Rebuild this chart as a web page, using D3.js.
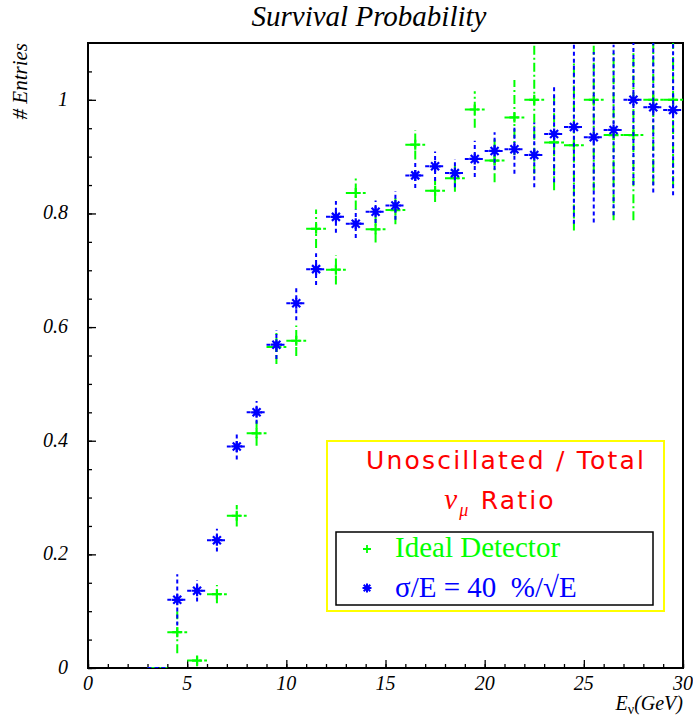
<!DOCTYPE html>
<html>
<head>
<meta charset="utf-8">
<script src="https://cdn.jsdelivr.net/npm/d3@7"></script>
<style>
  body { margin: 0; background: #fff; }
  text { white-space: pre; }
</style>
</head>
<body>
<div id="chart"></div>
<script>
var svgWidth = 693;
var svgHeight = 721;

var margin = { top: 43, right: 10, bottom: 53, left: 88 };
var chartWidth = 595;
var chartHeight = 625;

// bin centres (GeV) and the two ratio histograms
var binCenters = [3.5, 4.5, 5.5, 6.5, 7.5, 8.5, 9.5, 10.5, 11.5, 12.5, 13.5, 14.5, 15.5,
  16.5, 17.5, 18.5, 19.5, 20.5, 21.5, 22.5, 23.5, 24.5, 25.5, 26.5, 27.5, 28.5, 29.5];
var idealVals = [0, 0.063, 0.013, 0.130, 0.268, 0.413, 0.565, 0.576, 0.773, 0.701, 0.836, 0.772, 0.806,
  0.921, 0.840, 0.862, 0.983, 0.893, 0.969, 1.0, 0.925, 0.920, 1.0, 0.938, 0.938, 1.0, 1.0];
var idealErr = [0, 0.037, 0.01, 0.016, 0.019, 0.022, 0.03, 0.027, 0.034, 0.026, 0.029, 0.023, 0.025,
  0.026, 0.02, 0.024, 0.032, 0.038, 0.066, 0.13, 0.084, 0.15, 0.16, 0.15, 0.15, 0.15, 0.15];
var smearVals = [0, 0.120, 0.136, 0.225, 0.390, 0.450, 0.569, 0.642, 0.702, 0.794, 0.782, 0.803, 0.814,
  0.867, 0.883, 0.871, 0.896, 0.910, 0.913, 0.903, 0.940, 0.952, 0.934, 0.947, 1.0, 0.987, 0.982];
var smearErr = [0, 0.045, 0.019, 0.02, 0.023, 0.02, 0.025, 0.03, 0.028, 0.028, 0.025, 0.02, 0.025,
  0.022, 0.026, 0.025, 0.032, 0.033, 0.043, 0.057, 0.085, 0.17, 0.15, 0.15, 0.15, 0.15, 0.15];

var xTickLabels = [0, 5, 10, 15, 20, 25, 30];
var yTickLabels = [0, 0.2, 0.4, 0.6, 0.8, 1];
var binWidth = 1;

var green = "#00ff00";
var blue = "#0000ff";
var serif = "Liberation Serif, Times New Roman, serif";

var svg = d3.select("#chart")
  .append("svg")
  .attr("width", svgWidth)
  .attr("height", svgHeight);

var chartGroup = svg.append("g")
  .attr("transform", `translate(${margin.left}, ${margin.top})`);

var xScale = d3.scaleLinear().domain([0, 30]).range([0, chartWidth]);
var yScale = d3.scaleLinear().domain([0, 1.1]).range([chartHeight, 0]);

// clip so the big error bars stop at the frame
svg.append("defs").append("clipPath").attr("id", "frameClip")
  .append("rect").attr("width", chartWidth).attr("height", chartHeight);

// axes: ticks drawn inward, ROOT style
var xAxisMinor = d3.axisTop(xScale).tickValues(d3.range(0, 31, 1)).tickSize(4).tickFormat("");
var xAxisMajor = d3.axisTop(xScale).tickValues(xTickLabels).tickSize(8).tickFormat("");
var yAxisMinor = d3.axisRight(yScale).tickValues(d3.range(0, 1.1, 0.05)).tickSize(4).tickFormat("");
var yAxisMajor = d3.axisRight(yScale).tickValues(yTickLabels).tickSize(8).tickFormat("");

[xAxisMinor, xAxisMajor].forEach(function(ax) {
  chartGroup.append("g").attr("class", "axis")
    .attr("transform", `translate(0, ${chartHeight})`)
    .call(ax);
});
[yAxisMinor, yAxisMajor].forEach(function(ax) {
  chartGroup.append("g").attr("class", "axis").call(ax);
});
chartGroup.selectAll(".axis .domain").remove();
chartGroup.selectAll(".axis line").attr("stroke", "#000").attr("stroke-width", 1.3);

// tick labels
chartGroup.append("g").selectAll("text")
  .data(xTickLabels)
  .enter()
  .append("text")
  .attr("x", d => xScale(d))
  .attr("y", chartHeight + 22)
  .attr("text-anchor", "middle")
  .style("font-family", serif)
  .style("font-style", "italic")
  .style("font-size", "20px")
  .text(d => d);

chartGroup.append("g").selectAll("text")
  .data(yTickLabels)
  .enter()
  .append("text")
  .attr("x", -20)
  .attr("y", d => yScale(d) + 6)
  .attr("text-anchor", "end")
  .style("font-family", serif)
  .style("font-style", "italic")
  .style("font-size", "20px")
  .text(d => d);

// frame
chartGroup.append("rect")
  .attr("width", chartWidth)
  .attr("height", chartHeight)
  .attr("fill", "none")
  .attr("stroke", "#000")
  .attr("stroke-width", 2);

// data
function drawHist(vals, errs, color, dash, marker) {
  var data = binCenters.map(function(c, i) { return { x: c, y: vals[i], e: errs[i] }; });
  var g = chartGroup.append("g").attr("clip-path", "url(#frameClip)");

  g.selectAll(".hbar")
    .data(data)
    .enter()
    .append("line")
    .attr("x1", d => xScale(d.x - binWidth / 2))
    .attr("x2", d => xScale(d.x + binWidth / 2))
    .attr("y1", d => yScale(d.y))
    .attr("y2", d => yScale(d.y))
    .attr("stroke", color)
    .attr("stroke-width", 2)
    .attr("stroke-dasharray", dash);

  g.selectAll(".vbar")
    .data(data.filter(d => d.e > 0))
    .enter()
    .append("line")
    .attr("x1", d => xScale(d.x))
    .attr("x2", d => xScale(d.x))
    .attr("y1", d => yScale(d.y - d.e))
    .attr("y2", d => yScale(d.y + d.e))
    .attr("stroke", color)
    .attr("stroke-width", 2)
    .attr("stroke-dasharray", dash);

  g.selectAll(".mark")
    .data(data.filter(d => d.y > 0))
    .enter()
    .append("path")
    .attr("transform", d => `translate(${xScale(d.x)}, ${yScale(d.y)})`)
    .attr("d", marker)
    .attr("fill", "none")
    .attr("stroke", color)
    .attr("stroke-width", 2.2);
}

var plusPath = "M-5,0H5M0,-5V5";
var starPath = "M-5.5,0H5.5M0,-5.5V5.5M-4,-4L4,4M-4,4L4,-4";

drawHist(idealVals, idealErr, green, "9,3,2,3", plusPath);
drawHist(smearVals, smearErr, blue, "4,3", starPath);

// title and axis labels
svg.append("text")
  .attr("x", 369)
  .attr("y", 26)
  .attr("text-anchor", "middle")
  .style("font-family", serif)
  .style("font-style", "italic")
  .style("font-size", "29px")
  .text("Survival Probability");

svg.append("text")
  .attr("transform", "translate(27, 43) rotate(-90)")
  .attr("text-anchor", "end")
  .style("font-family", serif)
  .style("font-style", "italic")
  .style("font-size", "21px")
  .text("# Entries");

var xLabel = svg.append("text")
  .attr("x", 683)
  .attr("y", 710)
  .attr("text-anchor", "end")
  .style("font-family", serif)
  .style("font-style", "italic")
  .style("font-size", "20px");
xLabel.append("tspan").text("E");
xLabel.append("tspan").attr("dy", 4).style("font-size", "14px").style("font-style", "normal").text("ν");
xLabel.append("tspan").attr("dy", -4).text("(GeV)");

// legend
var legend = svg.append("g");
legend.append("rect")
  .attr("x", 327).attr("y", 441)
  .attr("width", 337).attr("height", 170)
  .attr("fill", "#fff")
  .attr("stroke", "#ffff00")
  .attr("stroke-width", 2);

legend.append("text")
  .attr("x", 506).attr("y", 469)
  .attr("text-anchor", "middle")
  .attr("fill", "#ff0000")
  .style("font-family", "DejaVu Sans, sans-serif")
  .style("font-size", "25px")
  .style("letter-spacing", "2.2px")
  .text("Unoscillated / Total");

var ratio = legend.append("text")
  .attr("x", 500).attr("y", 509)
  .attr("text-anchor", "middle")
  .attr("fill", "#ff0000")
  .style("font-family", "DejaVu Sans, sans-serif")
  .style("font-size", "25px")
  .style("letter-spacing", "2.2px");
ratio.append("tspan").style("font-family", serif).style("font-style", "italic").style("font-size", "29px").text("ν");
ratio.append("tspan").attr("dy", 7).style("font-family", serif).style("font-style", "italic").style("font-size", "18px").text("μ");
ratio.append("tspan").attr("dy", -7).text(" Ratio");

legend.append("rect")
  .attr("x", 336).attr("y", 532)
  .attr("width", 317).attr("height", 73)
  .attr("fill", "none")
  .attr("stroke", "#000")
  .attr("stroke-width", 1.5);

legend.append("path")
  .attr("transform", "translate(367, 549)")
  .attr("d", "M-4,0H4M0,-4V4")
  .attr("fill", "none").attr("stroke", green).attr("stroke-width", 1.8);
legend.append("path")
  .attr("transform", "translate(367, 588)")
  .attr("d", "M-4.5,0H4.5M0,-4.5V4.5M-3.3,-3.3L3.3,3.3M-3.3,3.3L3.3,-3.3")
  .attr("fill", "none").attr("stroke", blue).attr("stroke-width", 2);

legend.append("text")
  .attr("x", 395).attr("y", 557)
  .attr("fill", green)
  .style("font-family", serif)
  .style("font-size", "29px")
  .text("Ideal Detector");

legend.append("text")
  .attr("x", 395).attr("y", 597)
  .attr("fill", blue)
  .style("font-family", serif)
  .style("font-size", "29px")
  .text("σ/E = 40  %/√E");
</script>
</body>
</html>
